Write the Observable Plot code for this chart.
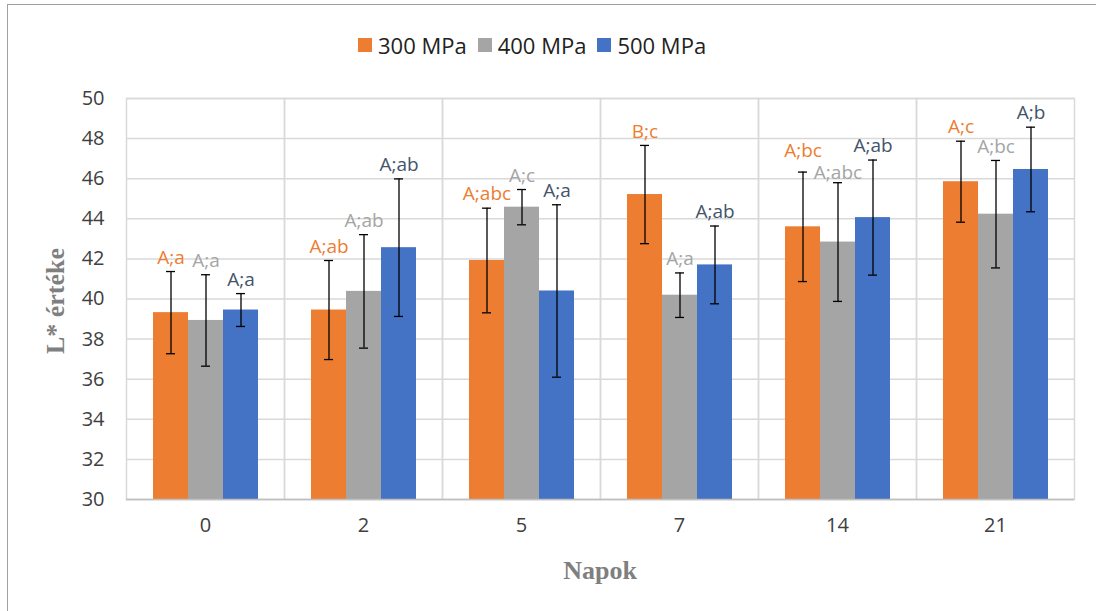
<!DOCTYPE html>
<html><head><meta charset="utf-8">
<script src="https://cdn.jsdelivr.net/npm/d3@7"></script>
<script src="https://cdn.jsdelivr.net/npm/@observablehq/plot@0.6"></script>
<style>
html,body{margin:0;padding:0;background:#fff;}
#wrap{position:relative;width:1096px;height:611px;overflow:hidden;font-family:"Open Sans",Lato,sans-serif;}
#border{position:absolute;left:7px;top:4px;width:1200px;height:700px;border-top:1.5px solid #a0a0a0;border-left:1.5px solid #a0a0a0;}
#legend{position:absolute;top:29px;left:358px;display:flex;font-size:22px;color:#222;line-height:32px;}
.item{display:flex;align-items:center;margin-right:11px;}
.sw{width:14px;height:14px;margin-right:6px;}
#chart{position:absolute;left:0;top:0;}
</style></head>
<body><div id="wrap"><div id="border"></div><div id="chart"></div><div id="legend"></div></div>
<script>
const days = ["0","2","5","7","14","21"];
const seriesNames = ["300 MPa","400 MPa","500 MPa"];
const colors = ["#ED7D31","#A5A5A5","#4472C4"];
const labelColors = ["#ED7D31","#A5A5A5","#44546A"];
const mean300 = [39.32, 39.45, 41.92, 45.21, 43.6, 45.85];
const sd300   = [2.05, 2.47, 2.61, 2.45, 2.73, 2.02];
const lab300  = ["A;a","A;ab","A;abc","B;c","A;bc","A;c"];
const mean400 = [38.93, 40.38, 44.58, 40.19, 42.84, 44.23];
const sd400   = [2.28, 2.83, 0.88, 1.11, 2.96, 2.68];
const lab400  = ["A;a","A;ab","A;c","A;a","A;abc","A;bc"];
const mean500 = [39.45, 42.56, 40.4, 41.7, 44.06, 46.46];
const sd500   = [0.82, 3.43, 4.3, 1.94, 2.87, 2.11];
const lab500  = ["A;a","A;ab","A;a","A;ab","A;ab","A;b"];
const yTicks = [30,32,34,36,38,40,42,44,46,48,50];

const means = [mean300, mean400, mean500];
const sds = [sd300, sd400, sd500];
const labs = [lab300, lab400, lab500];
const data = [];
days.forEach((d, i) => seriesNames.forEach((s, j) => {
  data.push({day: d, series: s, value: means[j][i], lo: means[j][i] - sds[j][i], hi: means[j][i] + sds[j][i], label: labs[j][i], lc: labelColors[j]});
}));

// label placement: default offset above the error bar, with the two crowded labels of day 14 staggered as in the original
const crowded = new Set(["14|300 MPa", "14|400 MPa"]);
const normalLabels = data.filter(d => !crowded.has(d.day + "|" + d.series));
const upperLabel = data.filter(d => d.day === "14" && d.series === "300 MPa");
const lowerLabel = data.filter(d => d.day === "14" && d.series === "400 MPa");
const labelOpts = {fx: "day", x: "series", y: "hi", text: "label", fill: "lc", fontSize: 19};

const chart = Plot.plot({
  width: 1096, height: 611,
  marginLeft: 126, marginRight: 22, marginTop: 98, marginBottom: 112,
  style: {fontFamily: "'Open Sans', Lato, sans-serif", background: "transparent"},
  fx: {domain: days, paddingInner: 0, paddingOuter: 0, label: null},
  x: {domain: seriesNames, paddingInner: 0, paddingOuter: 0.757, axis: null},
  y: {domain: [30, 50], ticks: yTicks, label: null},
  color: {domain: seriesNames, range: colors},
  marks: [
    Plot.gridY(yTicks, {stroke: "#d9d9d9", strokeOpacity: 1, strokeWidth: 1.5}),
    Plot.frame({stroke: "#d9d9d9", strokeWidth: 1.5}),
    Plot.barY(data, {fx: "day", x: "series", y1: 30, y2: "value", fill: "series"}),
    Plot.ruleX(data, {fx: "day", x: "series", y1: "lo", y2: "hi", stroke: "#000", strokeWidth: 1.3}),
    Plot.tickY(data, {fx: "day", x: "series", y: "hi", stroke: "#000", strokeWidth: 1.3, insetLeft: 13, insetRight: 13}),
    Plot.tickY(data, {fx: "day", x: "series", y: "lo", stroke: "#000", strokeWidth: 1.3, insetLeft: 13, insetRight: 13}),
    Plot.text(normalLabels, {...labelOpts, dy: -14}),
    Plot.text(upperLabel, {...labelOpts, dy: -21}),
    Plot.text(lowerLabel, {...labelOpts, dy: -10}),
    Plot.ruleY([30], {stroke: "#bfbfbf", strokeWidth: 1.5}),
    Plot.axisY({ticks: yTicks, tickSize: 0, tickPadding: 22, fontSize: 20, fill: "#404040", label: null}),
    Plot.axisFx({anchor: "bottom", tickSize: 0, tickPadding: 18, fontSize: 20, fill: "#404040", label: null})
  ]
});
const svg = chart;
const ns = "http://www.w3.org/2000/svg";
const t1 = document.createElementNS(ns, "text");
t1.setAttribute("x", 600); t1.setAttribute("y", 579);
t1.setAttribute("text-anchor", "middle");
t1.setAttribute("style", "font-family:'Liberation Serif','Times New Roman',serif;font-weight:bold;font-size:26px;fill:#7f7f7f");
t1.textContent = "Napok";
svg.appendChild(t1);
const t2 = document.createElementNS(ns, "text");
t2.setAttribute("transform", "translate(64,301) rotate(-90)");
t2.setAttribute("text-anchor", "middle");
t2.setAttribute("style", "font-family:'Liberation Serif','Times New Roman',serif;font-weight:bold;font-size:26px;fill:#7f7f7f");
t2.textContent = "L* értéke";
svg.appendChild(t2);
document.getElementById("chart").appendChild(chart);

const leg = document.getElementById("legend");
seriesNames.forEach((s, j) => {
  const it = document.createElement("div"); it.className = "item";
  const sw = document.createElement("div"); sw.className = "sw"; sw.style.background = colors[j];
  const tx = document.createElement("span"); tx.textContent = s;
  it.appendChild(sw); it.appendChild(tx); leg.appendChild(it);
});
</script></body></html>
